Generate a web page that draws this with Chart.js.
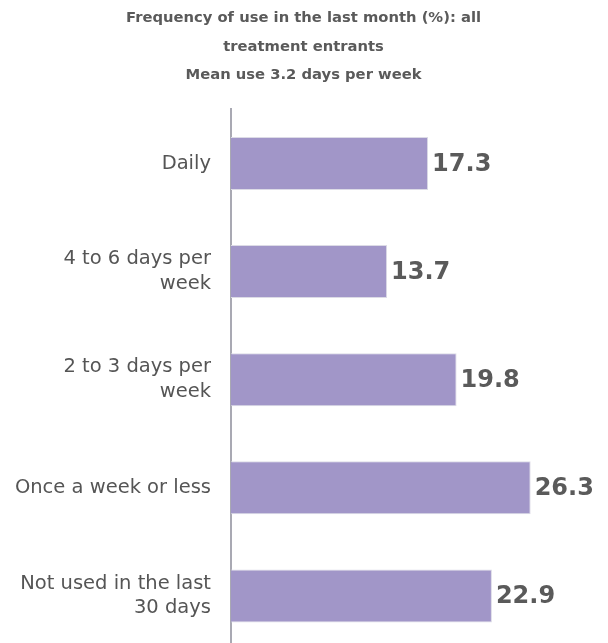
<!DOCTYPE html>
<html>
<head>
<meta charset="utf-8">
<script src="https://cdn.jsdelivr.net/npm/chart.js@4"></script>
<style>
    html, body { margin: 0; padding: 0; background: #fff; overflow: hidden; }
</style>
</head>
<body>
<!-- 画布略高于窗口，底部被裁切，与原图一致 -->
<canvas id="freqChart" width="608" height="650"></canvas>
<script>
// 数据
const categories = ['Daily', ['4 to 6 days per', 'week'], ['2 to 3 days per', 'week'], 'Once a week or less', ['Not used in the last', '30 days']]
const percentages = [17.3, 13.7, 19.8, 26.3, 22.9]
const titleLines = ['Frequency of use in the last month (%): all', 'treatment entrants', 'Mean use 3.2 days per week']

const fontFamily = '"DejaVu Sans", Verdana, sans-serif'

// 数值标签
const valueLabels = {
    id: 'valueLabels',
    afterDatasetsDraw(chart) {
        const ctx = chart.ctx
        const meta = chart.getDatasetMeta(0)
        ctx.save()
        ctx.font = 'bold 24px ' + fontFamily
        ctx.textBaseline = 'middle'
        ctx.textAlign = 'left'
        meta.data.forEach((bar, i) => {
            const txt = percentages[i].toFixed(1)
            const x = bar.x + 4
            const y = bar.y + 1
            ctx.lineWidth = 3
            ctx.strokeStyle = 'rgba(255,255,255,0.9)'
            ctx.strokeText(txt, x, y)
            ctx.fillStyle = '#5a5a5a'
            ctx.fillText(txt, x, y)
        })
        ctx.restore()
    }
}

const ctx = document.getElementById('freqChart').getContext('2d')
new Chart(ctx, {
    type: 'bar',
    data: {
        labels: categories,
        datasets: [{
            data: percentages,
            backgroundColor: '#a196c8',
            borderColor: '#dcdbe6',
            borderWidth: 1,
            barPercentage: 0.49,
            categoryPercentage: 1
        }]
    },
    options: {
        indexAxis: 'y',
        responsive: false,
        animation: false,
        layout: { padding: { right: 1, bottom: 0 } },
        plugins: {
            legend: { display: false },
            tooltip: { enabled: false },
            title: {
                display: true,
                text: titleLines,
                color: '#5a5a5a',
                font: { family: fontFamily, size: 14.75, weight: 'bold', lineHeight: 1.93 },
                padding: { top: 4, bottom: 20 }
            }
        },
        scales: {
            x: {
                display: false,
                min: 0,
                max: 33
            },
            y: {
                afterFit(scale) {
                    scale.width = 231
                    scale.paddingTop = 0
                    scale.paddingBottom = 0
                },
                grid: { display: false, drawTicks: false },
                border: { display: true, color: '#a9a9b3', width: 2 },
                ticks: {
                    color: '#555',
                    padding: 20,
                    font: { family: fontFamily, size: 19.5, lineHeight: 1.28 }
                }
            }
        }
    },
    plugins: [valueLabels]
})
</script>
</body>
</html>
